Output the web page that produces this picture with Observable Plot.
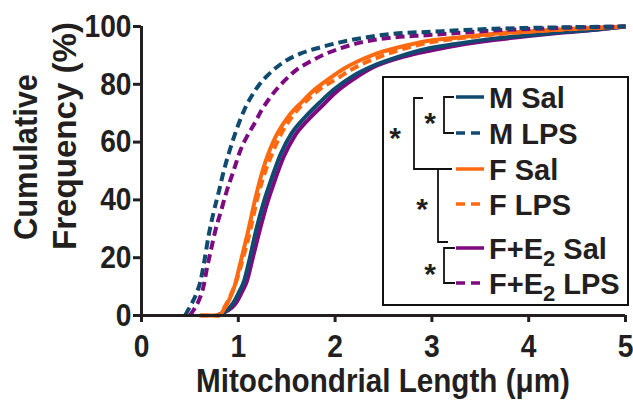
<!DOCTYPE html>
<html><head><meta charset="utf-8">
<script src="https://cdn.jsdelivr.net/npm/d3@7"></script>
<script src="https://cdn.jsdelivr.net/npm/@observablehq/plot@0.6"></script>
<style>
html,body{margin:0;padding:0;background:#fff;}
#chart svg [aria-label^="x-axis"] line, #chart svg [aria-label^="x-axis"] path,
#chart svg [aria-label^="y-axis"] line, #chart svg [aria-label^="y-axis"] path {stroke-width:3px; stroke:#231f20;}
</style></head><body><div id="chart"></div>
<script>
const xTicks = [0, 1, 2, 3, 4, 5];
const yTicks = [0, 20, 40, 60, 80, 100];
const xLabel = "Mitochondrial Length (μm)";
const yLabelLines = ["Cumulative", "Frequency (%)"];

const seriesNames = ["M Sal", "M LPS", "F Sal", "F LPS", "F+E2 Sal", "F+E2 LPS"];
const seriesColors = ["#104a6e", "#104a6e", "#ff6a10", "#ff6a10", "#7d0a80", "#7d0a80"];
const seriesDashed = [false, true, false, true, false, true];

const mSalX = [0.78, 0.88, 0.95, 1.00, 1.06, 1.12, 1.18, 1.27, 1.35, 1.44, 1.55, 1.70, 1.85, 1.98, 2.19, 2.40, 2.65, 2.95, 3.30, 3.64, 4.00, 4.33, 4.70, 5.00];
const mSalY = [0, 1.7, 4.5, 7.6, 12, 20, 29, 40, 48, 56, 63, 69, 74, 78, 83, 86.5, 89.5, 92.3, 94.2, 95.8, 97, 98, 99, 100];
const mLpsX = [0.45, 0.50, 0.56, 0.61, 0.65, 0.69, 0.74, 0.80, 0.85, 0.91, 1.00, 1.06, 1.13, 1.21, 1.30, 1.40, 1.50, 1.64, 1.85, 2.06, 2.33, 2.60, 3.00, 3.64, 4.30, 5.00];
const mLpsY = [0, 3, 7, 12, 19, 27, 35, 43, 50, 57, 66, 71, 75.5, 79.6, 83, 86, 88.3, 90.6, 92.8, 94.6, 96.3, 97.5, 98.2, 99.2, 99.7, 100];
const fSalX = [0.61, 0.80, 0.85, 0.90, 0.96, 1.02, 1.10, 1.18, 1.25, 1.31, 1.38, 1.52, 1.66, 1.80, 1.92, 2.12, 2.27, 2.40, 2.68, 2.95, 3.30, 3.64, 4.00, 4.33, 5.00];
const fSalY = [0, 0, 2, 5, 10, 18, 29, 41, 50, 56, 61.5, 69, 74, 78.5, 81.5, 86, 88.5, 90.3, 93, 95, 96.3, 97.5, 98.3, 99, 100];
const fLpsX = [0.60, 0.80, 0.86, 0.92, 0.98, 1.05, 1.12, 1.20, 1.28, 1.35, 1.43, 1.56, 1.71, 1.85, 2.02, 2.19, 2.50, 2.95, 3.30, 3.64, 4.00, 4.33, 5.00];
const fLpsY = [0, 0, 3, 7, 12, 20, 29, 41, 50, 56, 62, 69, 74.5, 78.5, 82, 85.5, 90, 94.3, 96, 97.2, 98.2, 98.9, 100];
const feSalX = [0.78, 0.88, 0.97, 1.03, 1.09, 1.15, 1.21, 1.30, 1.38, 1.47, 1.58, 1.73, 1.88, 2.00, 2.20, 2.40, 2.70, 3.00, 3.30, 3.64, 4.00, 4.33, 4.70, 5.00];
const feSalY = [0, 1.5, 4, 7.6, 12, 20, 28, 39, 47, 55, 62, 68, 73, 77, 82, 86, 89.5, 91.8, 93.7, 95.3, 96.7, 97.8, 98.9, 100];
const feLpsX = [0.50, 0.54, 0.59, 0.64, 0.68, 0.72, 0.76, 0.82, 0.88, 0.95, 1.02, 1.09, 1.16, 1.24, 1.33, 1.47, 1.60, 1.75, 1.90, 2.06, 2.27, 2.60, 2.95, 3.64, 4.30, 5.00];
const feLpsY = [0, 2, 5, 10, 17, 23, 29, 36, 43, 50, 57, 62, 66, 71, 75.5, 81, 85, 88, 90.5, 92.5, 94.5, 96.2, 97, 98.6, 99.5, 100];

const seriesX = [mSalX, mLpsX, fSalX, fLpsX, feSalX, feLpsX];
const seriesY = [mSalY, mLpsY, fSalY, fLpsY, feSalY, feLpsY];
const drawOrder = [4, 0, 3, 2, 5, 1];

const lineMarks = drawOrder.map(i => {
  const data = seriesX[i].map((x, j) => ({x, y: seriesY[i][j]}));
  return Plot.line(data, {
    x: "x", y: "y", curve: "monotone-x",
    stroke: seriesColors[i], strokeWidth: 4,
    strokeDasharray: seriesDashed[i] ? "9,5" : null,
    strokeLinecap: "butt"
  });
});

const plot = Plot.plot({
  width: 633, height: 400,
  marginLeft: 141, marginRight: 8, marginTop: 26, marginBottom: 85,
  style: {fontFamily: "'Liberation Sans', Arial, Helvetica, sans-serif", fontSize: "32px", fontWeight: "bold", color: "#231f20", background: "white", overflow: "visible"},
  x: {domain: [0, 5], ticks: xTicks, tickFormat: d => String(d), tickSize: 7, tickPadding: 12, label: null},
  y: {domain: [0, 100], ticks: yTicks, tickFormat: d => String(d), tickSize: 8, tickPadding: 2, label: null},
  marks: [
    ...lineMarks,
    Plot.ruleY([0], {stroke: "#231f20", strokeWidth: 3}),
    Plot.ruleX([0], {stroke: "#231f20", strokeWidth: 3})
  ]
});
document.getElementById("chart").appendChild(plot);

const svg = d3.select(plot);
// condense tick labels like the reference's condensed bold face
svg.selectAll('[aria-label^="x-axis"] text, [aria-label^="y-axis"] text').each(function () {
  const len = this.getComputedTextLength();
  this.setAttribute("textLength", (len * 0.88).toFixed(1));
  this.setAttribute("lengthAdjust", "spacingAndGlyphs");
});

svg.append("text").attr("x", 383).attr("y", 392)
  .attr("text-anchor", "middle").attr("font-size", 33).attr("fill", "#231f20")
  .attr("textLength", 374).attr("lengthAdjust", "spacingAndGlyphs").text(xLabel);
svg.append("text").attr("transform", "translate(37,157) rotate(-90)")
  .attr("text-anchor", "middle").attr("font-size", 34).attr("fill", "#231f20")
  .attr("textLength", 166).attr("lengthAdjust", "spacingAndGlyphs").text(yLabelLines[0]);
svg.append("text").attr("transform", "translate(76,136) rotate(-90)")
  .attr("text-anchor", "middle").attr("font-size", 34).attr("fill", "#231f20")
  .attr("textLength", 228).attr("lengthAdjust", "spacingAndGlyphs").text(yLabelLines[1]);

// legend
const lg = svg.append("g").attr("text-anchor", "start");
lg.append("rect").attr("x", 383).attr("y", 77).attr("width", 245).attr("height", 228)
  .attr("fill", "white").attr("stroke", "#111").attr("stroke-width", 2);
const rowY = [97, 133, 169, 204, 248, 283];
seriesNames.forEach((name, i) => {
  lg.append("line").attr("x1", 456).attr("x2", 484).attr("y1", rowY[i]).attr("y2", rowY[i])
    .attr("stroke", seriesColors[i]).attr("stroke-width", 3.5)
    .attr("stroke-dasharray", seriesDashed[i] ? "9,6" : null);
  const t = lg.append("text").attr("x", 489).attr("y", rowY[i] + 10.5)
    .attr("text-anchor", "start").attr("font-size", 29).attr("fill", "#231f20");
  if (name.includes("E2")) {
    const [a, b] = name.split("E2");
    t.append("tspan").text(a + "E");
    t.append("tspan").attr("font-size", 22).attr("dy", 7).text("2");
    t.append("tspan").attr("dy", -7).text(b);
  } else {
    t.text(name);
  }
});
const bracketPaths = [
  "M454,97H444V133H454",
  "M423,98H414V169H438",
  "M452,169H438V242H448",
  "M455,248H444V283H455"
];
bracketPaths.forEach(d => lg.append("path").attr("d", d).attr("fill", "none")
  .attr("stroke", "#111").attr("stroke-width", 1.8));
const stars = [[395, 132], [430, 117], [422, 203], [430, 268]];
stars.forEach(([x, y]) => lg.append("text").attr("x", x).attr("y", y + 16)
  .attr("text-anchor", "middle").attr("font-size", 30).attr("fill", "#231f20").text("*"));
</script></body></html>
